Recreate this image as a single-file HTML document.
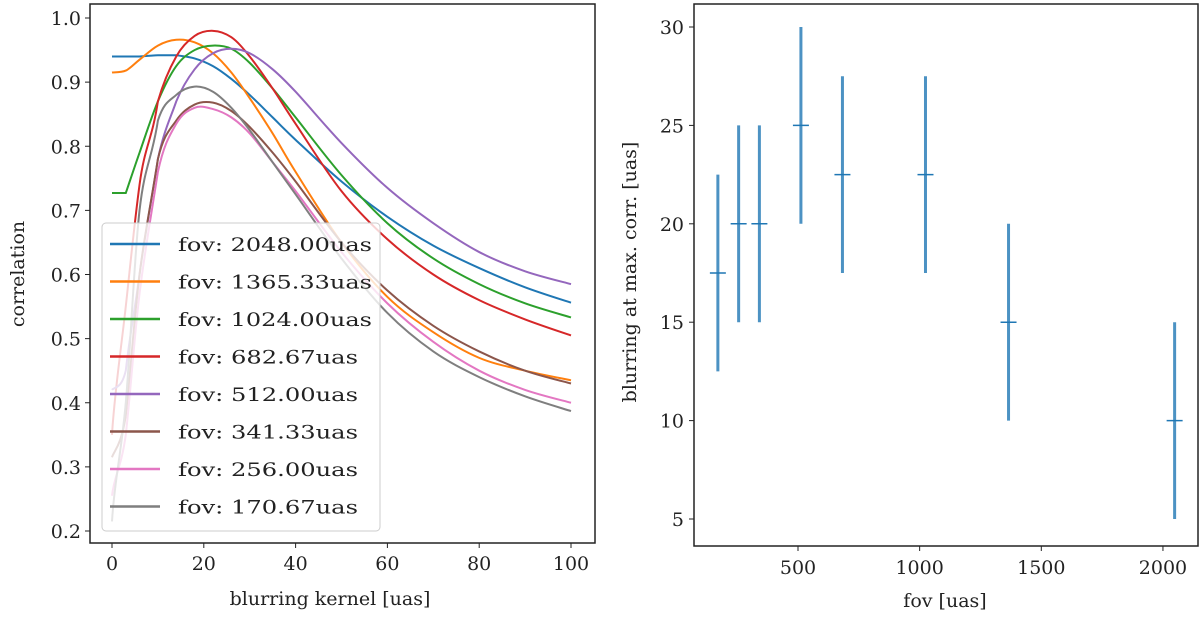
<!DOCTYPE html>
<html><head><meta charset="utf-8"><style>
body{margin:0;background:#fff}
svg{display:block;font-family:"DejaVu Serif","Liberation Serif",serif}
</style></head><body>
<svg id="c" width="1200" height="619" xmlns="http://www.w3.org/2000/svg"></svg>
<script>
const kernelX=[0,3,6,10,14,18,22,26,30,35,40,50,60,70,80,90,100];
const seriesLabels=["fov: 2048.00uas","fov: 1365.33uas","fov: 1024.00uas","fov: 682.67uas","fov: 512.00uas","fov: 341.33uas","fov: 256.00uas","fov: 170.67uas"];
const s2048=[0.94,0.94,0.94,0.942,0.942,0.937,0.925,0.905,0.88,0.845,0.81,0.745,0.69,0.645,0.61,0.58,0.556];
const s1365=[0.915,0.918,0.935,0.957,0.966,0.962,0.945,0.915,0.875,0.82,0.76,0.65,0.565,0.51,0.47,0.45,0.435];
const s1024=[0.727,0.727,0.79,0.87,0.925,0.95,0.957,0.952,0.93,0.89,0.845,0.755,0.68,0.625,0.585,0.555,0.533];
const s682=[0.35,0.55,0.74,0.87,0.94,0.972,0.98,0.97,0.94,0.89,0.835,0.73,0.655,0.6,0.56,0.53,0.505];
const s512=[0.42,0.45,0.6,0.78,0.87,0.92,0.945,0.952,0.945,0.92,0.885,0.805,0.735,0.68,0.635,0.605,0.585];
const s341=[0.315,0.38,0.6,0.78,0.84,0.865,0.868,0.855,0.83,0.79,0.745,0.65,0.575,0.52,0.48,0.45,0.43];
const s256=[0.255,0.35,0.57,0.76,0.835,0.86,0.858,0.845,0.82,0.775,0.73,0.635,0.555,0.495,0.45,0.42,0.4];
const s170=[0.215,0.4,0.7,0.84,0.88,0.893,0.885,0.86,0.825,0.775,0.725,0.625,0.54,0.48,0.44,0.41,0.387];
const leftXTicks=[0,20,40,60,80,100];
const leftYTicks=[0.2,0.3,0.4,0.5,0.6,0.7,0.8,0.9,1.0];
const fovVals=[170.67,256,341.33,512,682.67,1024,1365.33,2048];
const blurVals=[17.5,20,20,25,22.5,22.5,15,10];
const blurErr=[5,5,5,5,5,5,5,5];
const rightXTicks=[500,1000,1500,2000];
const rightYTicks=[5,10,15,20,25,30];

const NS="http://www.w3.org/2000/svg";
const svg=document.getElementById('c');
function el(t,a,p){const e=document.createElementNS(NS,t);for(const k in a)e.setAttribute(k,a[k]);(p||svg).appendChild(e);return e;}
const colors=["#1f77b4","#ff7f0e","#2ca02c","#d62728","#9467bd","#8c564b","#e377c2","#7f7f7f"];
const allS=[s2048,s1365,s1024,s682,s512,s341,s256,s170];
const clamp=(v,a,b)=>Math.max(Math.min(a,b),Math.min(Math.max(a,b),v));

// left axes
const lx=v=>112+v*4.59, ly=v=>531-(v-0.2)*641.25;
const gL=el('g',{});


allS.forEach((s,i)=>{
  const pts=kernelX.map((x,j)=>[lx(x),ly(s[j])]);
  let d='M'+pts[0][0]+','+pts[0][1];
  for(let j=0;j<pts.length-1;j++){
    const p0=pts[Math.max(0,j-1)],p1=pts[j],p2=pts[j+1],p3=pts[Math.min(pts.length-1,j+2)];
    const c1y=p1[1]===p2[1]?p1[1]:p1[1]+(p2[1]-p0[1])/6;
    const c2y=p1[1]===p2[1]?p2[1]:p2[1]-(p3[1]-p1[1])/6;
    const a=clamp(c1y,p1[1]-40,p2[1]+40), b=clamp(c2y,p1[1]-40,p2[1]+40);
    d+=` C${p1[0]+(p2[0]-p0[0])/6},${(j>0&&pts[j-1][1]===p1[1])?p1[1]+(p2[1]-p1[1])/3:a} ${p2[0]-(p3[0]-p1[0])/6},${b} ${p2[0]},${p2[1]}`;
  }
  const p=el('path',{d:d,fill:'none',stroke:colors[i],'stroke-width':2},gL);
  
  
});
const fL=el('rect',{x:90,y:4,width:505,height:539,fill:'none',stroke:'#222','stroke-width':1.5},gL);


leftXTicks.forEach(t=>{
  el('line',{x1:lx(t),x2:lx(t),y1:543,y2:548,stroke:'#222'},gL);
  const tx=el('text',{x:lx(t),y:570,'font-size':19,'text-anchor':'middle',fill:'#222'},gL);tx.textContent=t;
  
  
});
leftYTicks.forEach(t=>{
  el('line',{x1:85,x2:90,y1:ly(t),y2:ly(t),stroke:'#222'},gL);
  const tx=el('text',{x:81,y:ly(t)+7,'font-size':19,'text-anchor':'end',fill:'#222'},gL);tx.textContent=t.toFixed(1);
  
  
});
const xl=el('text',{x:330,y:605,'font-size':19,'text-anchor':'middle',fill:'#222'},gL);xl.textContent='blurring kernel [uas]';


const yl=el('text',{x:0,y:0,'font-size':19,'text-anchor':'middle',fill:'#222',transform:'translate(24,274) rotate(-90)'},gL);yl.textContent='correlation';


const lg=el('g',{},gL);


el('rect',{x:102,y:223,width:278,height:308,rx:4,fill:'#fff','fill-opacity':0.8,stroke:'#ccc'},lg);
seriesLabels.forEach((s,i)=>{
  const y=244+i*37.5;
  const g=el('g',{},lg);
  
  
  el('line',{x1:110,x2:160,y1:y,y2:y,stroke:colors[i],'stroke-width':2.5},g);
  const t=el('text',{x:178,y:y+7,'font-size':19,fill:'#222'},g);t.textContent=s;
  t.setAttribute('textLength',s.length>14?194:180);
  t.setAttribute('lengthAdjust','spacingAndGlyphs');
});

// right axes
const rx=v=>798+(v-500)*0.2433, ry=v=>519-(v-5)*19.68;
const gR=el('g',{});


fovVals.forEach((f,i)=>{
  const g=el('g',{},gR);
  
  
  el('line',{x1:rx(f),x2:rx(f),y1:ry(blurVals[i]-blurErr[i]),y2:ry(blurVals[i]+blurErr[i]),stroke:'#1f77b4','stroke-opacity':0.8,'stroke-width':3},g);
  el('line',{x1:rx(f)-8,x2:rx(f)+8,y1:ry(blurVals[i]),y2:ry(blurVals[i]),stroke:'#1f77b4','stroke-width':1.5},g);
});
const fR=el('rect',{x:694,y:4,width:504,height:542,fill:'none',stroke:'#222','stroke-width':1.5},gR);


rightXTicks.forEach(t=>{
  el('line',{x1:rx(t),x2:rx(t),y1:546,y2:551,stroke:'#222'},gR);
  const tx=el('text',{x:rx(t),y:574,'font-size':19,'text-anchor':'middle',fill:'#222'},gR);tx.textContent=t;
  
  
});
rightYTicks.forEach(t=>{
  el('line',{x1:689,x2:694,y1:ry(t),y2:ry(t),stroke:'#222'},gR);
  const tx=el('text',{x:684,y:ry(t)+7,'font-size':19,'text-anchor':'end',fill:'#222'},gR);tx.textContent=t;
  
  
});
const xr=el('text',{x:945,y:607,'font-size':19,'text-anchor':'middle',fill:'#222'},gR);xr.textContent='fov [uas]';


const yr=el('text',{x:0,y:0,'font-size':19,'text-anchor':'middle',fill:'#222',transform:'translate(636,272) rotate(-90)'},gR);yr.textContent='blurring at max. corr. [uas]';


</script>
</body></html>
